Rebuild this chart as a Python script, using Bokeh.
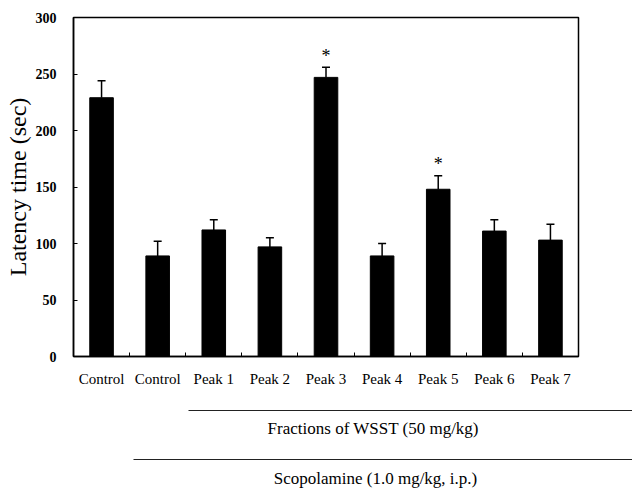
from bokeh.plotting import figure
from bokeh.models import ColumnDataSource, Range1d, FixedTicker, Whisker, TeeHead
from bokeh.layouts import column
from bokeh.core.properties import value
from bokeh.embed import file_html
from bokeh.resources import INLINE

categories = ["Control", "Control", "Peak 1", "Peak 2", "Peak 3", "Peak 4", "Peak 5", "Peak 6", "Peak 7"]
latency = [229, 89, 112, 97, 247, 89, 148, 111, 103]
sem = [15, 13, 9, 8, 9, 11, 12, 10, 14]
significant = [False, False, False, False, True, False, True, False, False]
y_ticks = [0, 50, 100, 150, 200, 250, 300]
group_labels = ["Fractions of WSST  (50 mg/kg)", "Scopolamine (1.0 mg/kg, i.p.)"]

FONT = "Liberation Serif"

xs = [i + 0.5 for i in range(len(categories))]
upper = [v + e for v, e in zip(latency, sem)]
src = ColumnDataSource(dict(x=xs, top=latency, upper=upper))

p = figure(width=632, height=393, x_range=Range1d(0, len(categories)), y_range=Range1d(0, 300),
           output_backend="svg", toolbar_location=None,
           min_border_left=73, min_border_right=54, min_border_top=17, min_border_bottom=37)
p.xgrid.visible = False
p.ygrid.visible = False
p.outline_line_color = "black"
p.outline_line_width = 1.5

p.vbar(x="x", top="top", width=0.42, source=src, fill_color="black", line_color="black")
w = Whisker(source=src, base="x", upper="upper", lower="top", line_color="black", line_width=1.5,
            upper_head=TeeHead(size=8, line_color="black", line_width=1.5), lower_head=None)
p.add_layout(w)

sx = [x for x, s in zip(xs, significant) if s]
sy = [u + 10 for u, s in zip(upper, significant) if s]
p.text(x=sx, y=sy, text=["*"] * len(sx), text_align="center", text_baseline="middle",
       text_font=value(FONT), text_font_size="18px", text_color="black")

# y axis
p.yaxis.ticker = FixedTicker(ticks=y_ticks)
p.yaxis.major_tick_in = 4
p.yaxis.major_tick_out = 0
p.yaxis.minor_tick_line_color = None
p.yaxis.axis_line_color = "black"
p.yaxis.axis_line_width = 1.5
p.yaxis.major_label_text_font = FONT
p.yaxis.major_label_text_font_size = "14px"
p.yaxis.major_label_text_font_style = "bold"
p.yaxis.major_label_text_color = "black"
p.yaxis.major_label_standoff = 17
p.yaxis.axis_label = "Latency time (sec)"
p.yaxis.axis_label_text_font = FONT
p.yaxis.axis_label_text_font_size = "24px"
p.yaxis.axis_label_text_font_style = "normal"
p.yaxis.axis_label_text_color = "black"
p.yaxis.axis_label_standoff = 2

# x axis
p.xaxis.ticker = FixedTicker(ticks=xs, minor_ticks=list(range(1, len(categories))))
p.xaxis.major_label_overrides = {x: c for x, c in zip(xs, categories)}
p.xaxis.major_tick_in = 0
p.xaxis.major_tick_out = 0
p.xaxis.minor_tick_in = 4
p.xaxis.minor_tick_out = 0
p.xaxis.axis_line_color = "black"
p.xaxis.axis_line_width = 1.5
p.xaxis.major_label_text_font = FONT
p.xaxis.major_label_text_font_size = "15px"
p.xaxis.major_label_text_color = "black"
p.xaxis.major_label_standoff = 14

# group annotations below the chart, in page pixel coordinates
q = figure(width=632, height=97, x_range=Range1d(0, 632), y_range=Range1d(97, 0),
           output_backend="svg", toolbar_location=None,
           min_border=0, min_border_left=0, min_border_right=0, min_border_top=0, min_border_bottom=0)
for fig in (p, q):
    if "frame_align" in fig.properties():
        fig.frame_align = False
q.axis.visible = False
q.xgrid.visible = False
q.ygrid.visible = False
q.outline_line_color = None

line_x0 = [188, 133]
line_y = [17, 66]
text_y = [35, 85]
q.segment(x0=line_x0, x1=[632, 632], y0=line_y, y1=line_y, line_color="#222222", line_width=1.2)
q.text(x=[375, 375], y=text_y, text=group_labels, text_align="center", text_baseline="middle",
       text_font=value(FONT), text_font_size="17px", text_color="black")

layout = column(p, q, spacing=0)
open("out.html", "w").write(file_html(layout, INLINE))
